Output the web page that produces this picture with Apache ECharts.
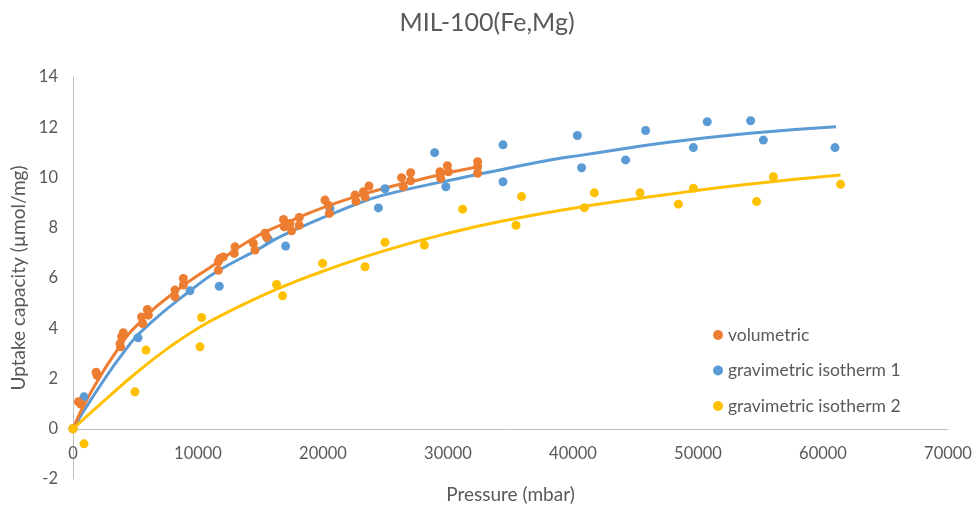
<!DOCTYPE html>
<html>
<head>
<meta charset="utf-8">
<script src="https://cdn.jsdelivr.net/npm/echarts@6/dist/echarts.min.js"></script>
<style>
  html, body { margin: 0; padding: 0; background: #fff; }
  #chart { width: 974px; height: 515px; }
</style>
</head>
<body>
<div id="chart"></div>
<script>
const volumetric = [
  [0, 0], [430, 1.07], [620, 0.98], [1850, 2.25], [1930, 2.12],
  [3760, 3.39], [3890, 3.66], [3810, 3.26], [4020, 3.82],
  [5490, 4.45], [5950, 4.75], [5570, 4.19], [6030, 4.52],
  [8160, 5.52], [8830, 5.98], [8160, 5.25], [8830, 5.72],
  [11630, 6.65], [11760, 6.78], [11630, 6.31], [12030, 6.84],
  [12960, 7.24], [12900, 6.98], [14430, 7.38], [14560, 7.11],
  [15360, 7.78], [15490, 7.62],
  [16840, 8.33], [16900, 8.04], [17360, 8.17], [17490, 7.88], [18100, 8.41], [18100, 8.1],
  [20160, 9.1], [20430, 8.9], [20510, 8.57],
  [22560, 9.3], [22640, 9.05], [23230, 9.43], [23680, 9.66], [23360, 9.23],
  [26290, 9.99], [26430, 9.63], [27010, 10.19], [27010, 9.87],
  [29360, 10.23], [29420, 9.97], [29950, 10.47], [30030, 10.23],
  [32370, 10.63], [32370, 10.43], [32370, 10.17]
]
const gravimetric1 = [
  [0, 0], [880, 1.27], [5200, 3.62], [9360, 5.49], [11700, 5.67],
  [15630, 7.54], [17010, 7.27], [20560, 8.77], [24430, 8.79], [24960, 9.55],
  [28930, 10.99], [29830, 9.63], [34400, 11.3], [34400, 9.83],
  [40350, 11.67], [40690, 10.39], [44210, 10.7], [45810, 11.87],
  [49630, 11.19], [50740, 12.22], [54210, 12.26], [55230, 11.49], [60960, 11.19]
]
const gravimetric2 = [
  [0, 0], [880, -0.6], [4960, 1.47], [5840, 3.13], [10160, 3.26], [10290, 4.43],
  [16290, 5.74], [16770, 5.29], [19970, 6.58], [23360, 6.45], [24960, 7.42],
  [28110, 7.31], [31170, 8.74], [35440, 8.1], [35890, 9.24], [40910, 8.8],
  [41710, 9.39], [45360, 9.39], [48430, 8.94], [49630, 9.57], [54690, 9.04],
  [56030, 10.03], [61410, 9.73]
]

// Fitted curves.
const volumetricFit = [
  [0, 0], [1230, 1.27], [3760, 3.3], [5490, 4.3], [8160, 5.45], [11490, 6.6],
  [14000, 7.45], [16830, 8.15], [22160, 9.17], [28830, 10.05], [32300, 10.42]
]
const gravimetric1Fit = [
  [0, 0], [1490, 1.2], [4290, 3.2], [6160, 4.19], [9630, 5.59], [11490, 6.25],
  [14690, 7.11], [16830, 7.71], [22160, 8.84], [24830, 9.3], [31490, 10.03],
  [34160, 10.3], [38160, 10.7], [40830, 10.9], [47490, 11.39], [54160, 11.76], [61040, 12.02]
]
const gravimetric2Fit = [
  [0, 0], [2500, 1.12], [5000, 2.2], [7500, 3.17], [10000, 4.0], [12500, 4.67],
  [15000, 5.27], [17500, 5.8], [20000, 6.27], [25000, 7.1], [30000, 7.78],
  [35000, 8.33], [40000, 8.78], [47500, 9.32], [54000, 9.73], [61400, 10.1]
]

const ORANGE = "#ED7D31"
const BLUE = "#5B9BD5"
const YELLOW = "#FFC000"
const TEXT = "#595959"
const AXIS = "#BFBFBF"
const FONT = "Lato, 'Open Sans', sans-serif"

// grid is 402px tall for 16 units; the value 0 sits 2 units above the bottom
const GRID_H = 402
const ZERO_OFFSET = -(GRID_H * 2) / 16

const fitLine = (data, color) => ({
  type: "line",
  data,
  smooth: 0.5,
  showSymbol: false,
  silent: true,
  lineStyle: {color, width: 3},
  z: 2,
})

const dots = (name, data, color, z) => ({
  name,
  type: "scatter",
  data,
  symbolSize: 9,
  itemStyle: {color, opacity: 1},
  z,
})

const chart = echarts.init(document.getElementById("chart"))
chart.setOption({
  animation: false,
  textStyle: {fontFamily: FONT},
  title: {
    text: "MIL-100(Fe,Mg)",
    left: "center",
    top: 5,
    textStyle: {color: TEXT, fontSize: 25, fontWeight: "normal", fontFamily: FONT},
  },
  legend: {
    orient: "vertical",
    left: 708,
    top: 321,
    itemGap: 17.5,
    itemWidth: 10,
    itemHeight: 10,
    icon: "circle",
    data: ["volumetric", "gravimetric isotherm 1", "gravimetric isotherm 2"],
    textStyle: {color: TEXT, fontSize: 17.5, fontFamily: FONT},
  },
  grid: {left: 73, right: 26, top: 77, height: GRID_H, outerBoundsMode: "none", containLabel: false},
  xAxis: {
    type: "value",
    min: 0,
    max: 70000,
    interval: 10000,
    offset: ZERO_OFFSET,
    name: "Pressure (mbar)",
    nameLocation: "middle",
    nameGap: 57,
    nameTextStyle: {color: TEXT, fontSize: 19, fontFamily: FONT},
    axisLine: {onZero: false, lineStyle: {color: AXIS, width: 1}},
    axisTick: {show: false},
    splitLine: {show: false},
    axisLabel: {color: TEXT, fontSize: 16.5, margin: 16, fontFamily: FONT, formatter: (v) => String(v)},
  },
  yAxis: {
    type: "value",
    min: -2,
    max: 14,
    interval: 2,
    name: "Uptake capacity (µmol/mg)",
    nameLocation: "middle",
    nameGap: 42,
    nameTextStyle: {color: TEXT, fontSize: 19, fontFamily: FONT},
    axisLine: {show: true, onZero: false, lineStyle: {color: AXIS, width: 1}},
    axisTick: {show: false},
    splitLine: {show: false},
    axisLabel: {color: TEXT, fontSize: 16.5, margin: 15, fontFamily: FONT},
  },
  series: [
    fitLine(gravimetric1Fit, BLUE),
    fitLine(volumetricFit, ORANGE),
    fitLine(gravimetric2Fit, YELLOW),
    dots("gravimetric isotherm 1", gravimetric1, BLUE, 3),
    dots("volumetric", volumetric, ORANGE, 4),
    dots("gravimetric isotherm 2", gravimetric2, YELLOW, 5),
  ],
})
</script>
</body>
</html>
